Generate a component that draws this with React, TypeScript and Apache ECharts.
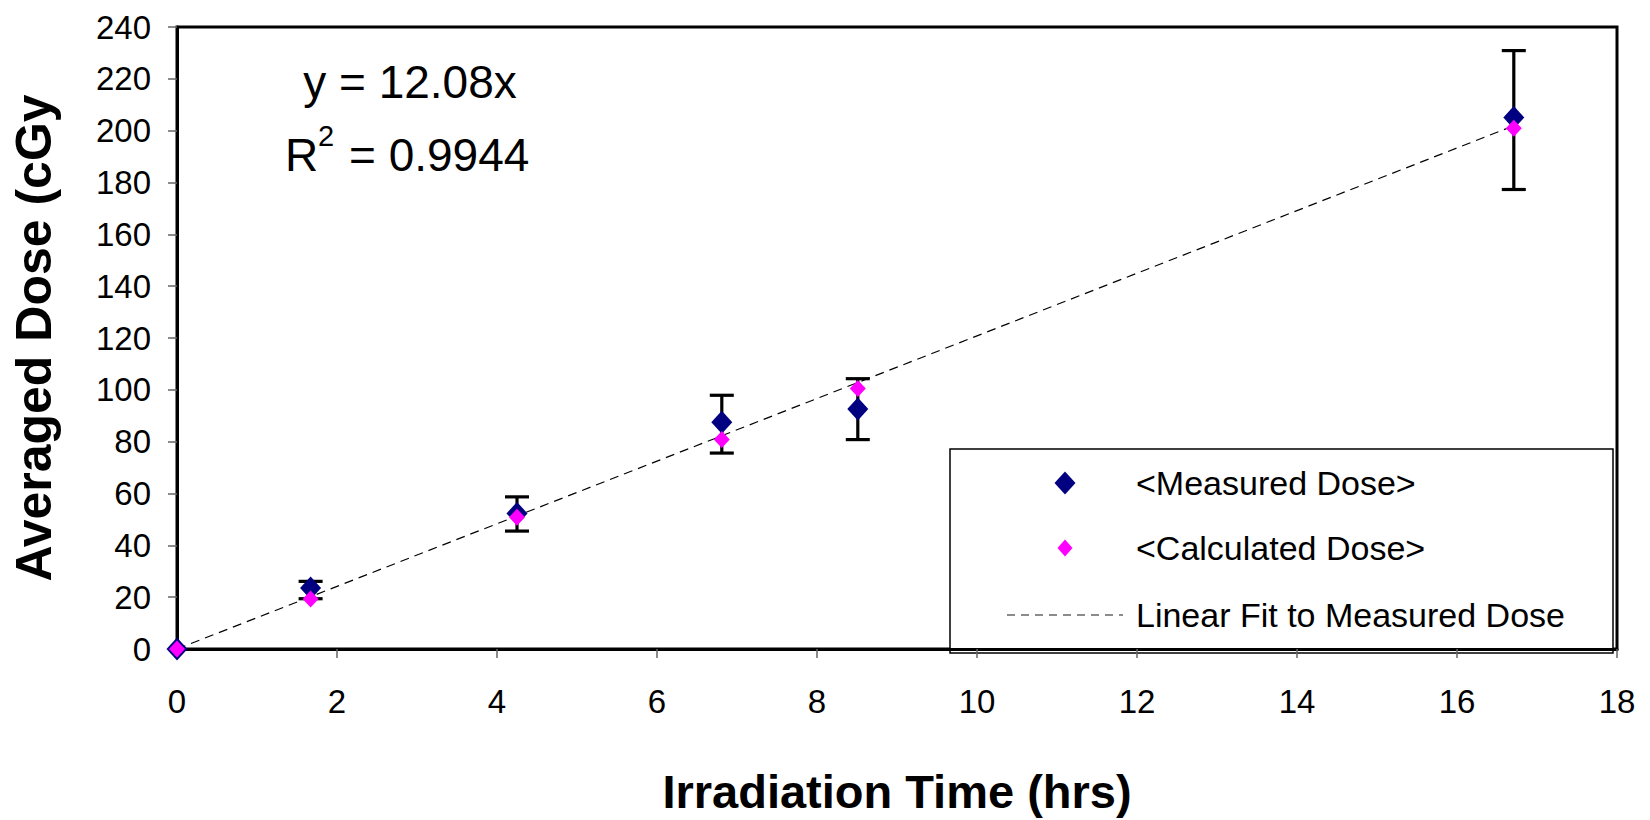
import React, { useEffect, useRef } from "react";
import * as echarts from "echarts";

const xValues = [0, 1.67, 4.25, 6.81, 8.51, 16.71];
const measuredDose = [0, 23.5, 52.3, 87.5, 92.6, 205.1];
const calculatedDose = [0, 19.3, 50.8, 80.8, 100.5, 200.9];
const errorX = [1.67, 4.25, 6.81, 8.51, 16.71];
const errorLow = [19.4, 45.5, 75.6, 80.8, 177.3];
const errorHigh = [26.1, 58.7, 97.9, 104.3, 230.9];
const fitX = [0, 16.71];
const fitY = [0, 201.9];

const legendNames = ["<Measured Dose>", "<Calculated Dose>", "Linear Fit to Measured Dose"];
const equationText = "y = 12.08x";
const r2Value = "= 0.9944";
const xTitle = "Irradiation Time (hrs)";
const yTitle = "Averaged Dose (cGy";

const FONT = "'Liberation Sans', Arial, Helvetica, sans-serif";

export default function App() {
  const ref = useRef<HTMLDivElement>(null);

  useEffect(() => {
    if (!ref.current) return;
    const chart = echarts.init(ref.current, null, { renderer: "svg" });

    const measured = xValues.map((x, i) => [x, measuredDose[i]]);
    const calculated = xValues.map((x, i) => [x, calculatedDose[i]]);
    const errors = errorX.map((x, i) => [x, errorLow[i], errorHigh[i]]);
    const fit = fitX.map((x, i) => [x, fitY[i]]);

    const legendX = 950;
    const legendY = 449;
    const legendW = 663;
    const legendH = 204;
    const iconX = 1065;
    const textX = 1136;
    const rowY = [483, 548, 615];

    chart.setOption({
      animation: false,
      backgroundColor: "#fff",
      grid: {
        left: 177,
        right: 33,
        top: 27,
        bottom: 167,
        show: true,
        borderColor: "#000",
        borderWidth: 3,
        backgroundColor: "transparent",
      },
      xAxis: {
        type: "value",
        min: 0,
        max: 18,
        interval: 2,
        name: xTitle,
        nameLocation: "middle",
        nameGap: 119,
        nameTextStyle: { fontSize: 47, fontWeight: "bold", color: "#000", fontFamily: FONT },
        axisLine: { show: true, lineStyle: { color: "#000", width: 3 } },
        axisTick: { show: true, length: 9, lineStyle: { color: "#666", width: 1.5 } },
        axisLabel: { fontSize: 33, color: "#000", margin: 36, fontFamily: FONT },
        splitLine: { show: false },
      },
      yAxis: {
        type: "value",
        min: 0,
        max: 240,
        interval: 20,
        name: yTitle,
        nameLocation: "middle",
        nameGap: 118,
        nameTextStyle: { fontSize: 50, fontWeight: "bold", color: "#000", fontFamily: FONT },
        axisLine: { show: true, lineStyle: { color: "#000", width: 3 } },
        axisTick: { show: true, length: 9, lineStyle: { color: "#666", width: 1.5 } },
        axisLabel: { fontSize: 33, color: "#000", margin: 26, fontFamily: FONT },
        splitLine: { show: false },
      },
      series: [
        {
          name: legendNames[2],
          type: "line",
          data: fit,
          showSymbol: false,
          symbol: "none",
          lineStyle: { color: "#000", width: 1.2, type: [9, 6] },
          z: 2,
        },
        {
          name: "error",
          type: "custom",
          data: errors,
          encode: { x: 0, y: [1, 2] },
          z: 3,
          renderItem: (params: any, api: any) => {
            const x = api.value(0);
            const lo = api.value(1);
            const hi = api.value(2);
            const top = api.coord([x, hi]);
            const bot = api.coord([x, lo]);
            const cw = 12;
            const style = { stroke: "#000", lineWidth: 3.2 };
            return {
              type: "group",
              children: [
                { type: "line", shape: { x1: top[0], y1: top[1], x2: bot[0], y2: bot[1] }, style },
                { type: "line", shape: { x1: top[0] - cw, y1: top[1], x2: top[0] + cw, y2: top[1] }, style },
                { type: "line", shape: { x1: bot[0] - cw, y1: bot[1], x2: bot[0] + cw, y2: bot[1] }, style },
              ],
            };
          },
        },
        {
          name: legendNames[0],
          type: "scatter",
          data: measured,
          symbol: "diamond",
          symbolSize: [21, 23],
          itemStyle: { color: "#000080", opacity: 1 },
          z: 4,
        },
        {
          name: legendNames[1],
          type: "scatter",
          data: calculated,
          symbol: "diamond",
          symbolSize: [16, 17],
          itemStyle: { color: "#FF00FF", opacity: 1 },
          z: 5,
        },
      ],
      graphic: [
        {
          type: "text",
          x: 410,
          y: 82,
          style: { text: equationText, fontSize: 46, fontFamily: FONT, fill: "#000", align: "center", verticalAlign: "middle" },
        },
        {
          type: "text",
          x: 285,
          y: 155,
          style: { text: "R", fontSize: 46, fontFamily: FONT, fill: "#000", align: "left", verticalAlign: "middle" },
        },
        {
          type: "text",
          x: 318,
          y: 136,
          style: { text: "2", fontSize: 29, fontFamily: FONT, fill: "#000", align: "left", verticalAlign: "middle" },
        },
        {
          type: "text",
          x: 349,
          y: 155,
          style: { text: r2Value, fontSize: 46, fontFamily: FONT, fill: "#000", align: "left", verticalAlign: "middle" },
        },
        {
          type: "group",
          z: 10,
          children: [
            {
              type: "rect",
              shape: { x: legendX, y: legendY, width: legendW, height: legendH },
              style: { fill: "#fff", stroke: "#000", lineWidth: 1.5 },
            },
            {
              type: "polygon",
              shape: { points: [[iconX, rowY[0] - 11.5], [iconX + 10.5, rowY[0]], [iconX, rowY[0] + 11.5], [iconX - 10.5, rowY[0]]] },
              style: { fill: "#000080" },
            },
            {
              type: "polygon",
              shape: { points: [[iconX, rowY[1] - 8.5], [iconX + 7.5, rowY[1]], [iconX, rowY[1] + 8.5], [iconX - 7.5, rowY[1]]] },
              style: { fill: "#FF00FF" },
            },
            {
              type: "line",
              shape: { x1: 1007, y1: rowY[2], x2: 1123, y2: rowY[2] },
              style: { stroke: "#666", lineWidth: 1.5, lineDash: [8, 6] },
            },
            ...legendNames.map((n, i) => ({
              type: "text",
              x: textX,
              y: rowY[i],
              style: { text: n, fontSize: 34, fontFamily: FONT, fill: "#000", align: "left", verticalAlign: "middle" },
            })),
          ],
        },
      ],
    });

    return () => chart.dispose();
  }, []);

  return (
    <div
      ref={ref}
      style={{ position: "absolute", left: 0, top: 0, width: 1650, height: 820, background: "#fff" }}
    />
  );
}
